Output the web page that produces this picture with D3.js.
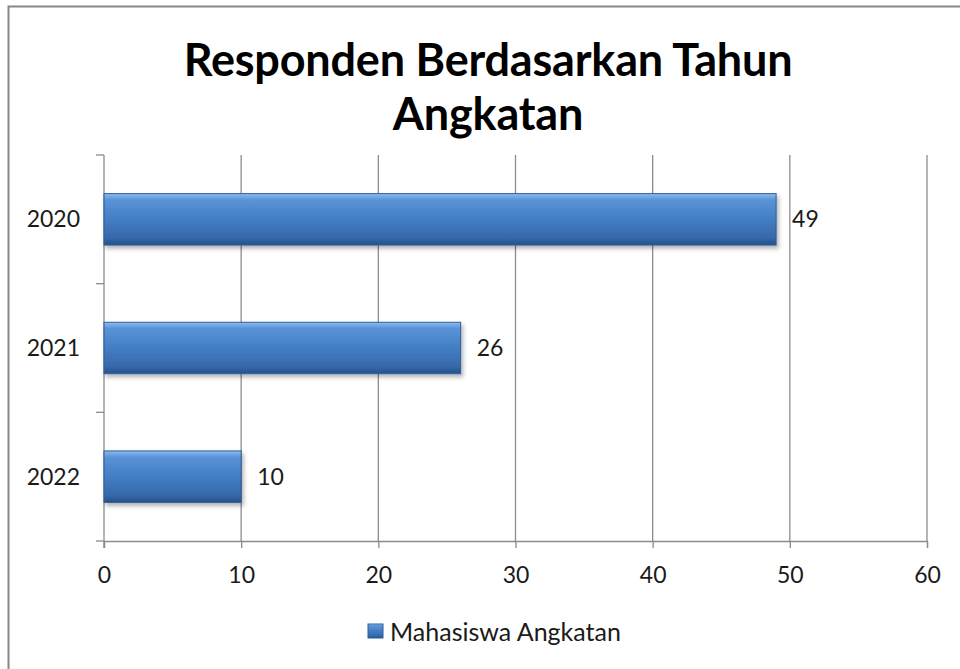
<!DOCTYPE html>
<html>
<head>
<meta charset="utf-8">
<script src="https://cdn.jsdelivr.net/npm/d3@7"></script>
<style>
  body { margin: 0; background: #fff; }
  text { font-family: Lato, "Open Sans", sans-serif; fill: #1a1a1a; }
</style>
</head>
<body>
<div class="chart"></div>
<script>
// chart data
const years = ["2020", "2021", "2022"]
const counts = [49, 26, 10]
const xTicks = [0, 10, 20, 30, 40, 50, 60]
const seriesName = "Mahasiswa Angkatan"
const titleLines = ["Responden Berdasarkan Tahun", "Angkatan"]

const W = 960, H = 669
const margin = {left: 104, top: 155, right: 33, bottom: 128}
const w = W - margin.left - margin.right
const h = H - margin.top - margin.bottom

const svg = d3.select(".chart").append("svg")
  .attr("width", W)
  .attr("height", H)

// gradient for bars
const defs = svg.append("defs")
const grad = defs.append("linearGradient").attr("id", "barGrad")
  .attr("x1", 0).attr("y1", 0).attr("x2", 0).attr("y2", 1)
grad.append("stop").attr("offset", "0%").attr("stop-color", "#8dbdf0")
grad.append("stop").attr("offset", "12%").attr("stop-color", "#5a93d8")
grad.append("stop").attr("offset", "50%").attr("stop-color", "#427ec4")
grad.append("stop").attr("offset", "85%").attr("stop-color", "#3769ab")
grad.append("stop").attr("offset", "100%").attr("stop-color", "#24528a")

const shadow = defs.append("filter").attr("id", "shadow")
  .attr("x", "-5%").attr("y", "-20%").attr("width", "115%").attr("height", "160%")
shadow.append("feDropShadow").attr("dx", 2).attr("dy", 3).attr("stdDeviation", 2)
  .attr("flood-color", "#000").attr("flood-opacity", 0.3)

// outer border (top and left visible)
svg.append("path")
  .attr("d", `M8.5,${H} L8.5,6.5 L${W},6.5`)
  .attr("fill", "none")
  .attr("stroke", "#868686")
  .attr("stroke-width", 2)

// title
svg.selectAll(".title").data(titleLines).join("text")
  .attr("class", "title")
  .attr("x", 488)
  .attr("y", (d, i) => 76 + i * 54)
  .attr("text-anchor", "middle")
  .style("font-size", "45px")
  .style("font-weight", "bold")
  .style("letter-spacing", "-0.2px")
  .style("fill", "#000")
  .text(d => d)

const container = svg.append("g")
  .attr("transform", `translate(${margin.left}, ${margin.top})`)

const xScale = d3.scaleLinear().domain([0, 60]).range([0, w])
const yScale = d3.scaleBand().domain(years).range([0, h]).paddingInner(0.6).paddingOuter(0.3)
const yTickScale = d3.scaleLinear().domain([0, years.length]).range([0, h])

// vertical gridlines
container.selectAll(".grid").data(xTicks.slice(1)).join("line")
  .attr("class", "grid")
  .attr("x1", d => xScale(d)).attr("x2", d => xScale(d))
  .attr("y1", 0).attr("y2", h)
  .attr("stroke", "#8c8c8c")
  .attr("stroke-width", 1.3)

// x axis
const xAxis = container.append("g")
  .attr("transform", `translate(0, ${h})`)
  .call(d3.axisBottom(xScale).tickValues(xTicks).tickSize(7).tickPadding(19))
xAxis.select(".domain").attr("stroke", "#8c8c8c").attr("stroke-width", 1.3)
xAxis.selectAll(".tick line").attr("stroke", "#8c8c8c").attr("stroke-width", 1.3)
xAxis.selectAll(".tick text").style("font-size", "23px").style("fill", "#1a1a1a")
  .style("font-family", "Lato, sans-serif")

// y axis line + category ticks (between categories)
container.append("line")
  .attr("x1", 0).attr("x2", 0).attr("y1", 0).attr("y2", h + 7)
  .attr("stroke", "#8c8c8c").attr("stroke-width", 1.3)
container.selectAll(".ytick").data(d3.range(years.length + 1)).join("line")
  .attr("class", "ytick")
  .attr("x1", -8).attr("x2", 0)
  .attr("y1", d => yTickScale(d)).attr("y2", d => yTickScale(d))
  .attr("stroke", "#8c8c8c").attr("stroke-width", 1.3)
container.selectAll(".ylabel").data(years).join("text")
  .attr("class", "ylabel")
  .attr("x", -24)
  .attr("y", d => yScale(d) + yScale.bandwidth() / 2)
  .attr("dy", "0.35em")
  .attr("text-anchor", "end")
  .style("font-size", "23px")
  .text(d => d)

// bars
const data = years.map((y, i) => ({year: y, value: counts[i]}))
container.selectAll(".bar").data(data).join("rect")
  .attr("class", "bar")
  .attr("x", 0)
  .attr("y", d => yScale(d.year))
  .attr("width", d => xScale(d.value))
  .attr("height", yScale.bandwidth())
  .attr("fill", "url(#barGrad)")
  .attr("stroke", "#2f5f98")
  .attr("stroke-width", 1)
  .attr("filter", "url(#shadow)")

// value labels
container.selectAll(".val").data(data).join("text")
  .attr("class", "val")
  .attr("x", d => xScale(d.value) + 16)
  .attr("y", d => yScale(d.year) + yScale.bandwidth() / 2)
  .attr("dy", "0.35em")
  .style("font-size", "23px")
  .text(d => d.value)

// legend
const legend = svg.append("g").attr("transform", "translate(368, 624)")
legend.append("rect")
  .attr("width", 15).attr("height", 14)
  .attr("fill", "url(#barGrad)")
  .attr("stroke", "#2f5f98")
legend.append("text")
  .attr("x", 22).attr("y", 8)
  .attr("dy", "0.35em")
  .style("font-size", "25px")
  .text(seriesName)
</script>
</body>
</html>
